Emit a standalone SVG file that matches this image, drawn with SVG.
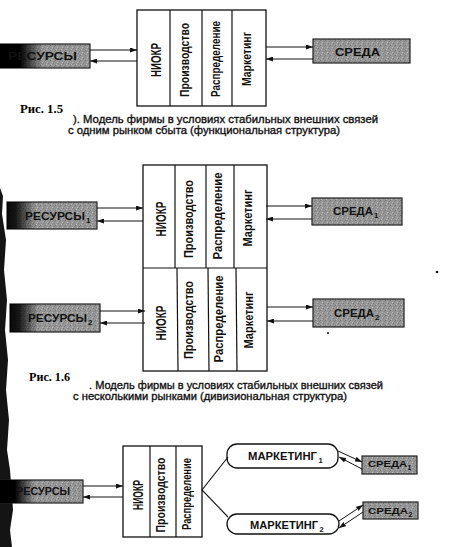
<svg xmlns="http://www.w3.org/2000/svg" width="452" height="547" viewBox="0 0 452 547">
<defs>
<pattern id="st" width="5" height="5" patternUnits="userSpaceOnUse">
<rect width="5" height="5" fill="#969696"/>
<rect x="0" y="0" width="1" height="1" fill="#747474"/>
<rect x="2" y="2" width="1" height="1" fill="#bcbcbc"/>
<rect x="4" y="1" width="1" height="1" fill="#808080"/>
<rect x="1" y="4" width="1" height="1" fill="#b4b4b4"/>
<rect x="3" y="3" width="1" height="1" fill="#7a7a7a"/>
</pattern>
<linearGradient id="dk1" x1="0" x2="1" y1="0" y2="0">
<stop offset="0" stop-color="#000" stop-opacity="1"/>
<stop offset="0.22" stop-color="#000" stop-opacity="1"/>
<stop offset="0.48" stop-color="#000" stop-opacity="0"/>
</linearGradient>
<linearGradient id="dk2" x1="0" x2="1" y1="0" y2="0">
<stop offset="0" stop-color="#000" stop-opacity="0.95"/>
<stop offset="0.1" stop-color="#000" stop-opacity="0.85"/>
<stop offset="0.32" stop-color="#000" stop-opacity="0"/>
</linearGradient>
<linearGradient id="dk3" x1="0" x2="1" y1="0" y2="0">
<stop offset="0" stop-color="#000" stop-opacity="1"/>
<stop offset="0.18" stop-color="#000" stop-opacity="1"/>
<stop offset="0.42" stop-color="#000" stop-opacity="0"/>
</linearGradient>
<marker id="ah" markerWidth="7" markerHeight="5" refX="7" refY="2.5" orient="auto" markerUnits="userSpaceOnUse">
<path d="M0,0 L7,2.5 L0,5 Z" fill="#111"/>
</marker>
<style>
.box{fill:#fff;stroke:#111;stroke-width:1.3}
.div{stroke:#111;stroke-width:1.2;fill:none}
.gb{fill:url(#st);stroke:#222;stroke-width:1.2}
.con{stroke:#111;stroke-width:1;fill:none;marker-end:url(#ah)}
.ln{stroke:#111;stroke-width:1.1;fill:none}
.vt{font-family:"Liberation Sans",Arial,sans-serif;font-weight:bold;fill:#111;text-anchor:middle}
.lb{font-family:"Liberation Sans",Arial,sans-serif;font-weight:bold;fill:#111}
.cap{font-family:"Liberation Sans",Arial,sans-serif;font-size:11px;fill:#111;stroke:#111;stroke-width:0.35}
.ris{font-family:"Liberation Serif","Times New Roman",serif;font-weight:bold;font-size:12.5px;fill:#000}
.rr{fill:#fff;stroke:#111;stroke-width:1.3}
</style>
</defs>
<rect width="452" height="547" fill="#fff"/>

<!-- scan edge -->
<path d="M0,188 L3,196 L2,214 L6,240 L4,270 L7,300 L5,330 L8,360 L6,390 L9,420 L7,450 L10,470 L13,510 L10,530 L12,547 L0,547 Z" fill="#141414"/>
<circle cx="437" cy="272" r="1.3" fill="#111"/>
<circle cx="328" cy="333" r="1" fill="#111"/>

<!-- ===== Figure 1.5 ===== -->
<g id="fig1-firm">
<rect class="box" x="137" y="10" width="129" height="96"/>
<line class="div" x1="170" y1="10" x2="170" y2="106"/>
<line class="div" x1="202" y1="10" x2="202" y2="106"/>
<line class="div" x1="232" y1="10" x2="232" y2="106"/>
<text class="vt" font-size="15" transform="translate(160.5,60) rotate(-90)" textLength="34" lengthAdjust="spacingAndGlyphs">НИОКР</text>
<text class="vt" font-size="13.5" transform="translate(189,60) rotate(-90)" textLength="74" lengthAdjust="spacingAndGlyphs">Производство</text>
<text class="vt" font-size="12" transform="translate(219.5,59) rotate(-90)" textLength="76" lengthAdjust="spacingAndGlyphs">Распределение</text>
<text class="vt" font-size="13.5" transform="translate(251,59) rotate(-90)" textLength="54" lengthAdjust="spacingAndGlyphs">Маркетинг</text>
</g>
<g id="fig1-resources">
<rect class="gb" x="0" y="44" width="90" height="24"/>
<rect x="0" y="44" width="90" height="24" fill="url(#dk1)"/>
<text class="lb" font-size="10.5" x="8" y="60" textLength="69" lengthAdjust="spacingAndGlyphs">РЕСУРСЫ</text>
</g>
<g id="fig1-env">
<rect class="gb" x="313" y="39" width="97" height="24"/>
<text class="lb" font-size="10.5" x="335" y="55.5" textLength="45" lengthAdjust="spacingAndGlyphs">СРЕДА</text>
</g>
<g id="fig1-connectors">
<line class="con" x1="90" y1="50" x2="137" y2="50"/>
<line class="con" x1="137" y1="61" x2="90" y2="61"/>
<line class="con" x1="266" y1="47" x2="313" y2="47"/>
<line class="con" x1="313" y1="59" x2="266" y2="59"/>
</g>
<g id="fig1-caption">
<text class="ris" x="20" y="113" textLength="43" lengthAdjust="spacingAndGlyphs">Рис. 1.5</text>
<text class="cap" x="73" y="123" textLength="305" lengthAdjust="spacingAndGlyphs">). Модель фирмы в условиях стабильных внешних связей</text>
<text class="cap" x="68" y="133.5" textLength="272" lengthAdjust="spacingAndGlyphs">с одним рынком сбыта (функциональная структура)</text>
</g>

<!-- ===== Figure 1.6 ===== -->
<g id="fig2-firm">
<rect class="box" x="143" y="165" width="124" height="206"/>
<line class="div" x1="143" y1="268" x2="267" y2="268"/>
<line class="div" x1="175" y1="165" x2="175" y2="268"/>
<line class="div" x1="206" y1="165" x2="206" y2="268"/>
<line class="div" x1="234" y1="165" x2="234" y2="268"/>
<line class="div" x1="177" y1="268" x2="178" y2="371"/>
<line class="div" x1="208" y1="268" x2="209" y2="371"/>
<line class="div" x1="236" y1="268" x2="237" y2="371"/>
<text class="vt" font-size="15" transform="translate(165.5,219) rotate(-90)" textLength="35" lengthAdjust="spacingAndGlyphs">НИОКР</text>
<text class="vt" font-size="13.5" transform="translate(192.5,219) rotate(-90)" textLength="78" lengthAdjust="spacingAndGlyphs">Производство</text>
<text class="vt" font-size="13.5" transform="translate(221.5,216) rotate(-90)" textLength="87" lengthAdjust="spacingAndGlyphs">Распределение</text>
<text class="vt" font-size="13.5" transform="translate(251.5,218) rotate(-90)" textLength="57" lengthAdjust="spacingAndGlyphs">Маркетинг</text>
<text class="vt" font-size="15" transform="translate(165.5,323) rotate(-90)" textLength="35" lengthAdjust="spacingAndGlyphs">НИОКР</text>
<text class="vt" font-size="13.5" transform="translate(192.5,320) rotate(-90)" textLength="78" lengthAdjust="spacingAndGlyphs">Производство</text>
<text class="vt" font-size="13.5" transform="translate(222.5,319) rotate(-90)" textLength="87" lengthAdjust="spacingAndGlyphs">Распределение</text>
<text class="vt" font-size="13.5" transform="translate(252.5,320) rotate(-90)" textLength="57" lengthAdjust="spacingAndGlyphs">Маркетинг</text>
</g>
<g id="fig2-resources1">
<rect class="gb" x="7" y="202" width="90" height="27"/>
<rect x="7" y="202" width="90" height="27" fill="url(#dk2)"/>
<text class="lb" font-size="10.5" x="25" y="220"><tspan textLength="60" lengthAdjust="spacingAndGlyphs">РЕСУРСЫ</tspan><tspan font-size="8" dy="2.5" dx="1">1</tspan></text>
</g>
<g id="fig2-env1">
<rect class="gb" x="312" y="198" width="90" height="27"/>
<text class="lb" font-size="10.5" x="333" y="215"><tspan textLength="40" lengthAdjust="spacingAndGlyphs">СРЕДА</tspan><tspan font-size="8" dy="2.5" dx="1">1</tspan></text>
</g>
<g id="fig2-resources2">
<rect class="gb" x="10" y="304" width="90" height="28"/>
<rect x="10" y="304" width="90" height="28" fill="url(#dk2)"/>
<text class="lb" font-size="10.5" x="28" y="322"><tspan textLength="59" lengthAdjust="spacingAndGlyphs">РЕСУРСЫ</tspan><tspan font-size="8" dy="2.5" dx="1">2</tspan></text>
</g>
<g id="fig2-env2">
<rect class="gb" x="313" y="299" width="91" height="28"/>
<text class="lb" font-size="10.5" x="334" y="317"><tspan textLength="40" lengthAdjust="spacingAndGlyphs">СРЕДА</tspan><tspan font-size="8" dy="2.5" dx="1">2</tspan></text>
</g>
<g id="fig2-connectors">
<line class="con" x1="97" y1="208" x2="143" y2="208"/>
<line class="con" x1="143" y1="221" x2="97" y2="221"/>
<line class="con" x1="266" y1="206" x2="312" y2="206"/>
<line class="con" x1="312" y1="219" x2="266" y2="219"/>
<line class="con" x1="100" y1="311" x2="145" y2="311"/>
<line class="con" x1="145" y1="323" x2="100" y2="323"/>
<line class="con" x1="267" y1="307" x2="313" y2="307"/>
<line class="con" x1="313" y1="321" x2="267" y2="321"/>
</g>
<g id="fig2-caption">
<text class="ris" x="29" y="381" textLength="41" lengthAdjust="spacingAndGlyphs">Рис. 1.6</text>
<text class="cap" x="89" y="389" textLength="294" lengthAdjust="spacingAndGlyphs">. Модель фирмы в условиях стабильных внешних связей</text>
<text class="cap" x="73" y="400" textLength="274" lengthAdjust="spacingAndGlyphs">с несколькими рынками (дивизиональная структура)</text>
</g>

<!-- ===== Figure 3 ===== -->
<g id="fig3-firm">
<rect class="box" x="123" y="446" width="79" height="91"/>
<line class="div" x1="150" y1="446" x2="150" y2="537"/>
<line class="div" x1="176" y1="446" x2="176" y2="537"/>
<text class="vt" font-size="14" transform="translate(143,495) rotate(-90)" textLength="30" lengthAdjust="spacingAndGlyphs">НИОКР</text>
<text class="vt" font-size="12.5" transform="translate(165,495) rotate(-90)" textLength="75" lengthAdjust="spacingAndGlyphs">Производство</text>
<text class="vt" font-size="12.5" transform="translate(191,494) rotate(-90)" textLength="72" lengthAdjust="spacingAndGlyphs">Распределение</text>
</g>
<g id="fig3-resources">
<rect class="gb" x="0" y="480" width="83" height="23"/>
<rect x="0" y="480" width="83" height="23" fill="url(#dk3)"/>
<text class="lb" font-size="10" x="16" y="495" textLength="54" lengthAdjust="spacingAndGlyphs">РЕСУРСЫ</text>
</g>
<g id="fig3-marketing1">
<rect class="rr" x="227" y="444" width="111" height="24" rx="10"/>
<text class="lb" font-size="10" x="248" y="460"><tspan textLength="69" lengthAdjust="spacingAndGlyphs">МАРКЕТИНГ</tspan><tspan font-size="7.5" dy="2.5" dx="1.5">1</tspan></text>
</g>
<g id="fig3-marketing2">
<rect class="rr" x="227" y="514" width="112" height="20" rx="10"/>
<text class="lb" font-size="10" x="250" y="529"><tspan textLength="68" lengthAdjust="spacingAndGlyphs">МАРКЕТИНГ</tspan><tspan font-size="7.5" dy="2.5" dx="1.5">2</tspan></text>
</g>
<g id="fig3-env1">
<rect class="gb" x="362" y="456" width="55" height="18"/>
<text class="lb" font-size="9.5" x="368" y="467"><tspan textLength="39" lengthAdjust="spacingAndGlyphs">СРЕДА</tspan><tspan font-size="7" dy="2.5" dx="0.5">1</tspan></text>
</g>
<g id="fig3-env2">
<rect class="gb" x="363" y="502" width="55" height="17"/>
<text class="lb" font-size="9.5" x="368" y="514"><tspan textLength="40" lengthAdjust="spacingAndGlyphs">СРЕДА</tspan><tspan font-size="7" dy="2.5" dx="0.5">2</tspan></text>
</g>
<g id="fig3-connectors">
<line class="con" x1="83" y1="486" x2="123" y2="486"/>
<line class="con" x1="123" y1="497" x2="83" y2="497"/>
<polyline class="ln" points="228,457 202,490 228,517"/>
<line class="con" x1="338" y1="451" x2="362" y2="462"/>
<line class="con" x1="362" y1="469" x2="339" y2="457"/>
<line class="con" x1="339" y1="521" x2="363" y2="505"/>
<line class="con" x1="363" y1="512" x2="339" y2="528"/>
</g>
</svg>
